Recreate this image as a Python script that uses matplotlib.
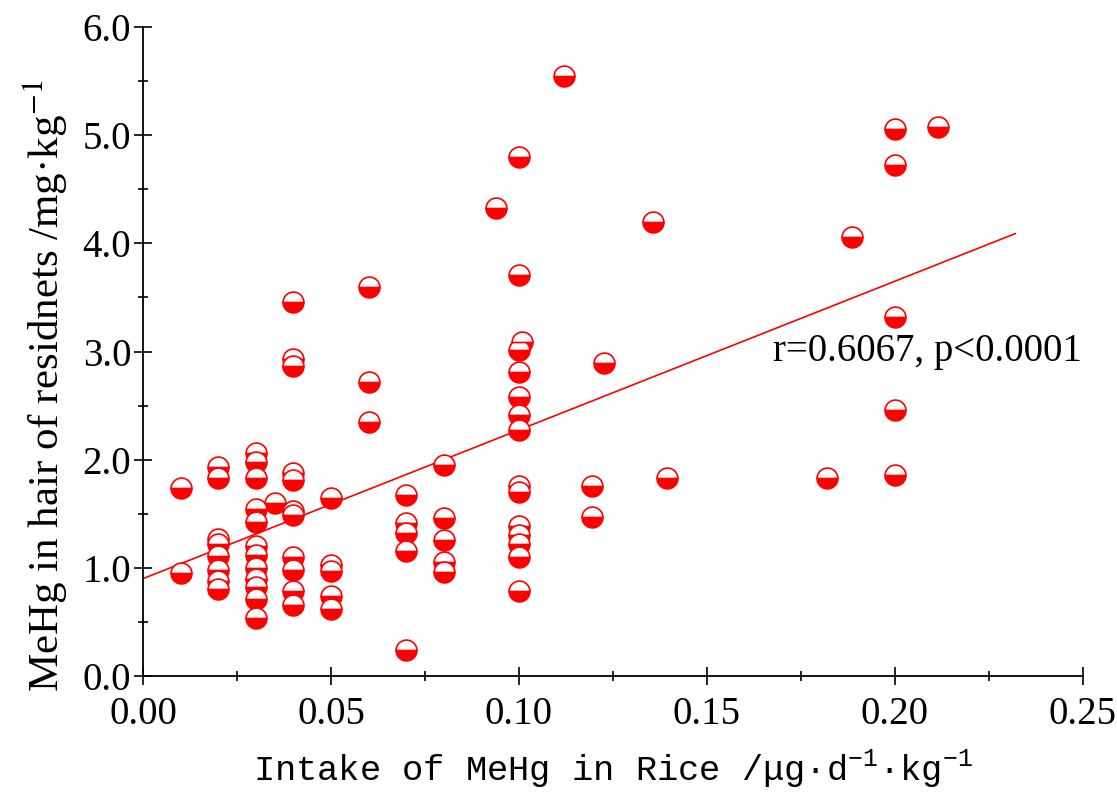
import matplotlib
matplotlib.use("Agg")
import matplotlib.pyplot as plt
from matplotlib.ticker import MultipleLocator, FormatStrFormatter

plt.rcParams['mathtext.fontset'] = 'custom'
plt.rcParams['mathtext.rm'] = 'Liberation Mono'

# intake of MeHg in rice (ug/d/kg) and MeHg in hair (mg/kg)
intake = [
    0.01, 0.01,
    0.02, 0.02, 0.02, 0.02, 0.02, 0.02, 0.02, 0.02,
    0.03, 0.03, 0.03, 0.03, 0.03, 0.03, 0.03, 0.03, 0.03, 0.03, 0.03, 0.03,
    0.035,
    0.04, 0.04, 0.04, 0.04, 0.04, 0.04, 0.04, 0.04, 0.04, 0.04, 0.04,
    0.05, 0.05, 0.05, 0.05, 0.05,
    0.06, 0.06, 0.06,
    0.07, 0.07, 0.07, 0.07, 0.07,
    0.08, 0.08, 0.08, 0.08, 0.08,
    0.094,
    0.10, 0.10, 0.10, 0.10, 0.10, 0.10, 0.10, 0.10, 0.10, 0.10, 0.10, 0.10, 0.10, 0.10,
    0.1007,
    0.112, 0.1194, 0.1194, 0.1226, 0.1356, 0.1394,
    0.182, 0.1886,
    0.20, 0.20, 0.20, 0.20, 0.20,
    0.2114,
]
hair = [
    1.74, 0.95,
    1.93, 1.83, 1.27, 1.22, 1.11, 0.98, 0.88, 0.80,
    2.06, 1.98, 1.83, 1.54, 1.42, 1.20, 1.12, 1.00, 0.90, 0.82, 0.71, 0.54,
    1.60,
    3.46, 2.93, 2.87, 1.88, 1.81, 1.53, 1.49, 1.10, 0.98, 0.79, 0.66,
    1.65, 1.03, 0.97, 0.74, 0.62,
    3.60, 2.72, 2.35,
    1.67, 1.41, 1.32, 1.16, 0.24,
    1.95, 1.46, 1.26, 1.05, 0.96,
    4.33,
    4.80, 3.71, 3.01, 2.81, 2.58, 2.41, 2.27, 1.76, 1.70, 1.39, 1.30, 1.22, 1.10, 0.79,
    3.09,
    5.55, 1.76, 1.47, 2.89, 4.20, 1.83,
    1.83, 4.06,
    5.06, 4.72, 3.32, 2.46, 1.86,
    5.08,
]

# fitted line end points
fit_x = [0.0, 0.232]
fit_y = [0.90, 4.09]

serif = 'Liberation Serif'

fig = plt.figure(figsize=(11.17, 7.95), dpi=100)
ax = fig.add_axes([0.128, 0.1497, 0.8415, 0.8163])

ax.plot(fit_x, fit_y, color='red', lw=1.2, zorder=2)
ax.plot(intake, hair, linestyle='none', marker='o', markersize=15,
        fillstyle='bottom', markerfacecolor='red', markerfacecoloralt='white',
        markeredgecolor='red', markeredgewidth=1.2, zorder=3, clip_on=False)

ax.set_xlim(0, 0.25)
ax.set_ylim(0, 6)
ax.xaxis.set_major_locator(MultipleLocator(0.05))
ax.xaxis.set_minor_locator(MultipleLocator(0.025))
ax.yaxis.set_major_locator(MultipleLocator(1))
ax.yaxis.set_minor_locator(MultipleLocator(0.5))
ax.xaxis.set_major_formatter(FormatStrFormatter('%.2f'))
ax.yaxis.set_major_formatter(FormatStrFormatter('%.1f'))

for side in ['top', 'right']:
    ax.spines[side].set_visible(False)
for side in ['left', 'bottom']:
    ax.spines[side].set_linewidth(1.3)

ax.tick_params(which='major', direction='inout', length=13, width=1.2)
ax.tick_params(which='minor', direction='inout', length=7, width=1.2)
ax.tick_params(axis='y', which='major', pad=2)
ax.tick_params(axis='x', which='major', pad=8)
for lab in ax.get_xticklabels() + ax.get_yticklabels():
    lab.set_fontfamily(serif)
    lab.set_fontsize(28)

ax.set_ylabel(r'MeHg in hair of residnets /mg·kg$^{-1}$', fontfamily=serif,
              fontsize=31, math_fontfamily='stix')
ax.yaxis.set_label_coords(-0.078, 0.447)
ax.set_xlabel(r'Intake of MeHg in Rice /μg·d$^{-1}$·kg$^{-1}$',
              fontfamily='Liberation Mono', fontsize=25.5, math_fontfamily='custom',
              labelpad=10)

ax.text(0.1676, 3.0, 'r=0.6067, p<0.0001', fontfamily=serif, fontsize=28,
        va='center', ha='left')

fig.savefig('out.png', dpi=100)
